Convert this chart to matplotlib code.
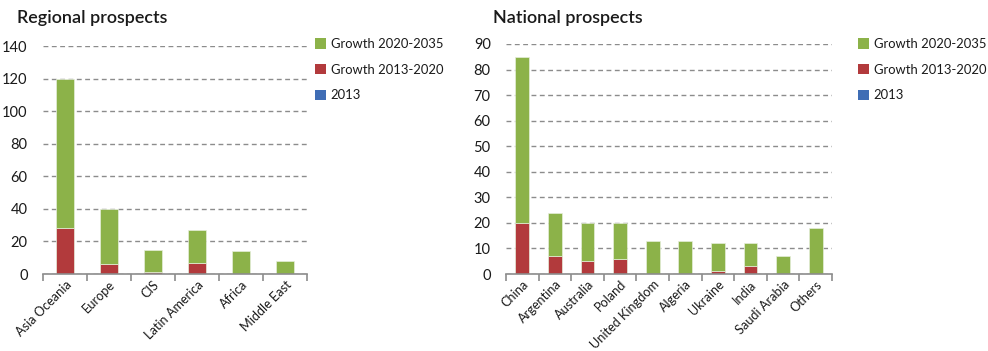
import matplotlib
matplotlib.use("Agg")
import matplotlib.pyplot as plt
import numpy as np
from matplotlib.patches import Patch

plt.rcParams['font.family'] = ['Lato', 'DejaVu Sans']

# Regional prospects
regions = ["Asia Oceania", "Europe", "CIS", "Latin America", "Africa", "Middle East"]
reg_2013 = [0, 0, 0, 0, 0, 0]
reg_g1320 = [28, 6, 1, 7, 0, 0]
reg_g2035 = [92, 34, 14, 20, 14, 8]

# National prospects
countries = ["China", "Argentina", "Australia", "Poland", "United Kingdom",
             "Algeria", "Ukraine", "India", "Saudi Arabia", "Others"]
nat_2013 = [0, 0, 0, 0, 0, 0, 0, 0, 0, 0]
nat_g1320 = [20, 7, 5, 6, 0, 0, 1, 3, 0, 0]
nat_g2035 = [65, 17, 15, 14, 13, 13, 11, 9, 7, 18]

series_labels = ["2013", "Growth 2013-2020", "Growth 2020-2035"]
colors = ["#3F6DB5", "#B23A3C", "#8CB249"]
TEXT = "#1a1a1a"

W, H = 988, 351
fig = plt.figure(figsize=(W / 100, H / 100), dpi=100)


def px_axes(x0, y_top, x1, y_bot):
    return fig.add_axes([x0 / W, 1 - y_bot / H, (x1 - x0) / W, (y_bot - y_top) / H])


def draw(ax, cats, s0, s1, s2, ymax, ystep, width):
    x = np.arange(len(cats))
    bottom = np.zeros(len(cats))
    for vals, c in zip([s0, s1, s2], colors):
        vals = np.array(vals, dtype=float)
        ax.bar(x, vals, width, bottom=bottom, color=c, edgecolor="#e6eedb",
               linewidth=0.5, zorder=3)
        bottom += vals
    ax.set_xlim(-0.5, len(cats) - 0.5)
    ax.set_ylim(0, ymax)
    ax.set_yticks(np.arange(0, ymax + 1, ystep))
    ax.yaxis.grid(True, linestyle=(0, (3.5, 2.5)), color="#8c8c8c", linewidth=1.0, zorder=0)
    ax.set_axisbelow(True)
    for s in ["top", "right", "left"]:
        ax.spines[s].set_visible(False)
    ax.spines["bottom"].set_color("#8c8c8c")
    ax.spines["bottom"].set_linewidth(1.2)
    ax.spines["bottom"].set_zorder(4)
    ax.tick_params(axis="y", length=0, labelsize=10.5, labelcolor=TEXT, pad=11)
    ax.set_xticks(x)
    ax.set_xticklabels(cats, rotation=45, ha="right", rotation_mode="anchor",
                       fontsize=9.2, color=TEXT)
    ax.tick_params(axis="x", which="major", length=0, pad=3)
    ax.set_xticks(np.arange(-0.5, len(cats)), minor=True)
    ax.tick_params(axis="x", which="minor", length=5, width=1.2, color="#8c8c8c",
                   direction="out")


ax1 = px_axes(43, 46, 307, 274)
draw(ax1, regions, reg_2013, reg_g1320, reg_g2035, 140, 20, 0.4)
fig.text(17 / W, 1 - 18 / H, "Regional prospects", fontsize=13, fontweight="semibold",
         color=TEXT, va="center", ha="left")

ax2 = px_axes(506, 44, 832, 274)
draw(ax2, countries, nat_2013, nat_g1320, nat_g2035, 90, 10, 0.42)
fig.text(493 / W, 1 - 18 / H, "National prospects", fontsize=13, fontweight="semibold",
         color=TEXT, va="center", ha="left")

handles = [Patch(facecolor=colors[2]), Patch(facecolor=colors[1]), Patch(facecolor=colors[0])]
labels = [series_labels[2], series_labels[1], series_labels[0]]
for xpos in (315, 858):
    fig.legend(handles, labels, loc="upper left", bbox_to_anchor=(xpos / W, 1 - 38 / H),
               frameon=False, fontsize=9.4, handlelength=0.85, handleheight=0.85,
               handletextpad=0.35, labelspacing=1.05, labelcolor=TEXT,
               borderaxespad=0, borderpad=0)

fig.savefig("out.png", dpi=100)
